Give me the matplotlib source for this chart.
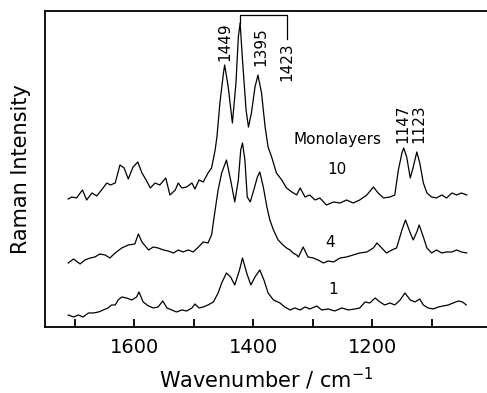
"""Raman spectra for 1, 4 and 10 monolayers."""

import matplotlib
matplotlib.use('Agg')
import matplotlib.pyplot as plt
from matplotlib.ticker import FixedLocator

# spectra (wavenumber in cm^-1, intensity in arbitrary units)
wn_10 = [1711, 1705, 1697, 1687, 1680, 1671, 1663, 1655, 1646, 1640, 1632, 1624,
         1617, 1610, 1602, 1594, 1587, 1580, 1573, 1565, 1557, 1547, 1540, 1531,
         1526, 1520, 1512, 1503, 1498, 1491, 1484, 1476, 1470, 1464, 1461, 1456,
         1450, 1448, 1442, 1435, 1429, 1425, 1422, 1418, 1412, 1408, 1403, 1397,
         1392, 1386, 1380, 1375, 1369, 1361, 1352, 1344, 1335, 1327, 1321, 1313,
         1305, 1296, 1288, 1277, 1265, 1254, 1243, 1232, 1221, 1209, 1198, 1190,
         1181, 1170, 1162, 1156, 1150, 1147, 1142, 1136, 1131, 1125, 1120, 1114,
         1108, 1100, 1092, 1083, 1075, 1066, 1058, 1050, 1041]
int_10 = [128, 130, 129, 137, 127, 134, 131, 137, 144, 142, 144, 162,
          159, 148, 160, 165, 154, 147, 139, 144, 142, 149, 132, 137,
          144, 139, 140, 144, 138, 147, 145, 154, 159, 177, 190, 224,
          254, 262, 240, 204, 244, 290, 304, 267, 217, 200, 214, 240,
          252, 234, 200, 180, 170, 154, 147, 139, 135, 132, 139, 130,
          132, 127, 129, 122, 125, 124, 127, 124, 127, 132, 140, 134,
          129, 130, 132, 157, 174, 179, 170, 149, 160, 175, 164, 144,
          134, 130, 129, 132, 129, 134, 132, 134, 132]

wn_4 = [1711, 1702, 1691, 1683, 1674, 1666, 1658, 1649, 1641, 1632, 1621, 1610,
        1599, 1593, 1587, 1576, 1568, 1560, 1551, 1543, 1534, 1526, 1518, 1509,
        1501, 1492, 1484, 1476, 1470, 1464, 1459, 1453, 1445, 1438, 1431, 1425,
        1421, 1418, 1414, 1410, 1405, 1399, 1393, 1389, 1383, 1377, 1372, 1366,
        1358, 1350, 1344, 1338, 1333, 1327, 1324, 1316, 1308, 1299, 1291, 1282,
        1274, 1265, 1254, 1243, 1232, 1221, 1209, 1198, 1192, 1184, 1176, 1167,
        1159, 1150, 1144, 1136, 1131, 1125, 1121, 1114, 1108, 1100, 1092, 1083,
        1075, 1066, 1058, 1050, 1041]
int_4 = [64, 68, 63, 67, 69, 70, 73, 72, 69, 74, 79, 82,
         83, 93, 85, 77, 80, 79, 77, 76, 74, 77, 75, 77,
         75, 80, 85, 84, 92, 117, 137, 154, 167, 147, 125, 147,
         177, 184, 167, 130, 125, 137, 150, 155, 140, 120, 107, 97,
         87, 82, 79, 77, 74, 72, 70, 80, 70, 69, 67, 64,
         66, 65, 69, 70, 72, 74, 75, 79, 84, 79, 74, 77,
         79, 97, 107, 94, 87, 95, 102, 90, 79, 74, 77, 74,
         75, 75, 77, 75, 74]

wn_1 = [1711, 1702, 1694, 1686, 1677, 1669, 1660, 1652, 1644, 1638, 1632, 1627,
        1621, 1613, 1604, 1596, 1592, 1585, 1576, 1568, 1560, 1552, 1545, 1537,
        1529, 1520, 1512, 1503, 1498, 1491, 1484, 1476, 1467, 1459, 1453, 1445,
        1438, 1431, 1423, 1418, 1411, 1404, 1397, 1389, 1382, 1375, 1366, 1355,
        1347, 1338, 1330, 1321, 1313, 1305, 1293, 1285, 1274, 1263, 1251, 1240,
        1229, 1221, 1212, 1204, 1195, 1187, 1179, 1170, 1162, 1153, 1145, 1136,
        1128, 1120, 1114, 1106, 1097, 1089, 1081, 1072, 1064, 1055, 1048, 1042]
int_1 = [12, 10, 12, 10, 14, 14, 15, 17, 19, 22, 22, 27,
         30, 29, 27, 30, 35, 25, 21, 19, 20, 26, 19, 17,
         15, 17, 16, 19, 23, 19, 20, 22, 25, 34, 44, 54,
         50, 42, 57, 69, 54, 42, 50, 57, 47, 34, 27, 24,
         20, 17, 19, 17, 20, 18, 21, 17, 18, 16, 19, 17,
         18, 19, 25, 24, 29, 25, 22, 24, 22, 27, 34, 27,
         25, 28, 22, 19, 18, 20, 21, 22, 24, 26, 25, 22]

major_ticks = [1600, 1400, 1200]
minor_ticks = [1700, 1500, 1300, 1100]

peak_labels = ['1449', '1395', '1147', '1123']
peak_pos = [1448, 1388, 1148, 1122]
peak_base = [266, 261, 184, 184]

bracket_wn = [1422, 1422, 1343, 1343]
bracket_int = [304, 312, 312, 288]

trace_names = ['10', '4', '1']
name_pos = [(1259, 157), (1271, 84), (1266, 37)]


def main():
    fig = plt.figure(figsize=(4.87, 3.93), dpi=100)
    ax = fig.add_axes([0.0924, 0.168, 0.9076, 0.804])

    for wn, inten in [(wn_10, int_10), (wn_4, int_4), (wn_1, int_1)]:
        ax.plot(wn, inten, color='black', lw=0.9)

    for lab, x, y in zip(peak_labels, peak_pos, peak_base):
        ax.text(x, y, lab, rotation=90, ha='center', va='bottom', fontsize=11)
    ax.plot(bracket_wn, bracket_int, color='black', lw=0.9)
    ax.text(1343, 285, '1423', rotation=90, ha='center', va='top', fontsize=11)

    ax.text(1259, 187, 'Monolayers', ha='center', va='center', fontsize=11)
    for name, (x, y) in zip(trace_names, name_pos):
        ax.text(x, y, name, ha='center', va='center', fontsize=11)

    ax.set_xlim(1750, 1007)
    ax.set_ylim(0, 316)
    ax.xaxis.set_major_locator(FixedLocator(major_ticks))
    ax.xaxis.set_minor_locator(FixedLocator(minor_ticks))
    ax.tick_params(axis='x', which='both', direction='in', length=6, width=1.3,
                   labelsize=14, pad=8)
    ax.set_yticks([])
    ax.spines['right'].set_visible(False)
    for side in ['left', 'top', 'bottom']:
        ax.spines[side].set_linewidth(1.3)

    ax.set_xlabel('Wavenumber / cm$^{-1}$', fontsize=15, labelpad=6)
    ax.set_ylabel('Raman Intensity', fontsize=15, labelpad=10)

    fig.savefig('out.png', dpi=100)


if __name__ == '__main__':
    main()
